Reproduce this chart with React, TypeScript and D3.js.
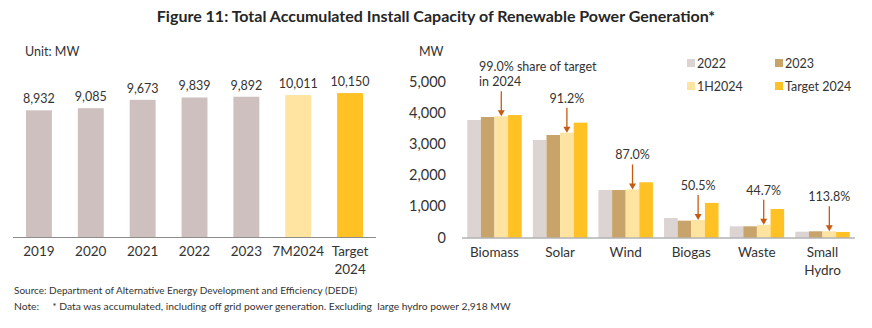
import React from "react";
import * as d3 from "d3";

const years = ["2019", "2020", "2021", "2022", "2023", "7M2024", "Target 2024"];
const totals = [8932, 9085, 9673, 9839, 9892, 10011, 10150];

const categories = ["Biomass", "Solar", "Wind", "Biogas", "Waste", "Small Hydro"];
const seriesNames = ["2022", "2023", "1H2024", "Target 2024"];
const v2022 = [3766, 3125, 1522, 625, 359, 186];
const v2023 = [3862, 3285, 1522, 540, 359, 199];
const v1H2024 = [3886, 3359, 1540, 560, 408, 200];
const vTarget = [3925, 3680, 1770, 1108, 913, 176];
const shareLabels = [["99.0% share of target", "in 2024"], ["91.2%"], ["87.0%"], ["50.5%"], ["44.7%"], ["113.8%"]];
const rightTicks = [0, 1000, 2000, 3000, 4000, 5000];

const FONT = "Lato, 'Open Sans', sans-serif";
const TEXT = "#333333";
const leftColors = ["#CEC0BE", "#CEC0BE", "#CEC0BE", "#CEC0BE", "#CEC0BE", "#FFE4A1", "#FFC124"];
const seriesColors = ["#DCD3D3", "#C9A46A", "#FFE4A1", "#FFC124"];
const ARROW = "#C55A11";

export default function App() {
  const W = 872, H = 328;
  // left chart
  const lx = d3.scaleBand<string>().domain(years).range([13, 376]).paddingInner(0.5).paddingOuter(0.25);
  const lBase = 237;
  const ly = d3.scaleLinear().domain([0, 10000]).range([lBase, lBase - 141.8]);

  // right chart
  const rx = d3.scaleBand<string>().domain(categories).range([462, 855]).paddingInner(0.17).paddingOuter(0.08);
  const rxi = d3.scaleBand<string>().domain(seriesNames).range([0, rx.bandwidth()]);
  const rBase = 237.5;
  const ry = d3.scaleLinear().domain([0, 5000]).range([rBase, 81.5]);
  const series = [v2022, v2023, v1H2024, vTarget];

  const fmt = d3.format(",");

  return (
    <svg width={W} height={H} style={{ position: "absolute", left: 0, top: 0, background: "#fff" }} fontFamily={FONT}>
      <rect width={W} height={H} fill="#fff" />
      <text x={436} y={22} textAnchor="middle" fontSize={16} fontWeight={700} fill="#262626">
        Figure 11: Total Accumulated Install Capacity of Renewable Power Generation*
      </text>

      {/* Left chart */}
      <text x={25} y={56} fontSize={12.5} fill={TEXT}>Unit: MW</text>
      {years.map((y, i) => (
        <g key={y}>
          <rect x={lx(y)!} y={ly(totals[i])} width={lx.bandwidth()} height={lBase - ly(totals[i])} fill={leftColors[i]} />
          <text x={lx(y)! + lx.bandwidth() / 2} y={ly(totals[i]) - 7} textAnchor="middle" fontSize={12.5} fill={TEXT}>
            {fmt(totals[i])}
          </text>
          {y.split(" ").map((line, j) => (
            <text key={j} x={lx(y)! + lx.bandwidth() / 2} y={256 + j * 18} textAnchor="middle" fontSize={13.5} fill={TEXT}>
              {line}
            </text>
          ))}
        </g>
      ))}
      <line x1={13} x2={376} y1={lBase + 0.5} y2={lBase + 0.5} stroke="#8c8c8c" strokeWidth={1} />

      {/* Right chart */}
      <text x={419} y={56} fontSize={12.5} fill={TEXT}>MW</text>
      {rightTicks.map((t) => (
        <text key={t} x={446} y={ry(t) + 5} textAnchor="end" fontSize={14.5} fill={TEXT}>
          {fmt(t)}
        </text>
      ))}
      {categories.map((c, ci) => (
        <g key={c}>
          {series.map((s, si) => (
            <rect key={si} x={rx(c)! + rxi(seriesNames[si])!} y={ry(s[ci])} width={rxi.bandwidth()}
              height={rBase - ry(s[ci])} fill={seriesColors[si]} />
          ))}
          {c.split(" ").map((line, j) => (
            <text key={j} x={rx(c)! + rx.bandwidth() / 2} y={257 + j * 18} textAnchor="middle" fontSize={13.5} fill={TEXT}>
              {line}
            </text>
          ))}
        </g>
      ))}
      <line x1={462} x2={855} y1={rBase + 0.5} y2={rBase + 0.5} stroke="#8c8c8c" strokeWidth={1} />

      {/* annotations */}
      {categories.map((c, ci) => {
        const ax = rx(c)! + rxi("1H2024")! + rxi.bandwidth() / 2;
        const top = ry(v1H2024[ci]);
        const lines = shareLabels[ci];
        const multi = lines.length > 1;
        const labelX = multi ? 479 : ax;
        return (
          <g key={c}>
            {lines.map((l, j) => (
              <text key={j} x={labelX} y={top - 30 - (lines.length - 1 - j) * 15} textAnchor={multi ? "start" : "middle"}
                fontSize={12.5} fill={TEXT}>
                {l}
              </text>
            ))}
            <line x1={ax} x2={ax} y1={top - 25} y2={top - 5} stroke={ARROW} strokeWidth={1.3} />
            <path d={`M${ax - 3.5},${top - 6} L${ax + 3.5},${top - 6} L${ax},${top} Z`} fill={ARROW} />
          </g>
        );
      })}

      {/* legend */}
      {seriesNames.map((s, i) => {
        const col = i % 2, row = Math.floor(i / 2);
        const x = 687 + col * 88, y = 63 + row * 23;
        return (
          <g key={s}>
            <rect x={x} y={y - 4} width={8} height={8} fill={seriesColors[i]} />
            <text x={x + 10} y={y + 4.5} fontSize={12.5} fill={TEXT}>{s}</text>
          </g>
        );
      })}

      {/* footnotes */}
      <text x={14} y={294} fontSize={10} fill={TEXT}>Source: Department of Alternative Energy Development and Efficiency (DEDE)</text>
      <text x={14} y={310} fontSize={10.3} fill={TEXT} style={{ whiteSpace: "pre" }}>
        {"Note:     * Data was accumulated, including off grid power generation. Excluding  large hydro power 2,918 MW"}
      </text>
    </svg>
  );
}
